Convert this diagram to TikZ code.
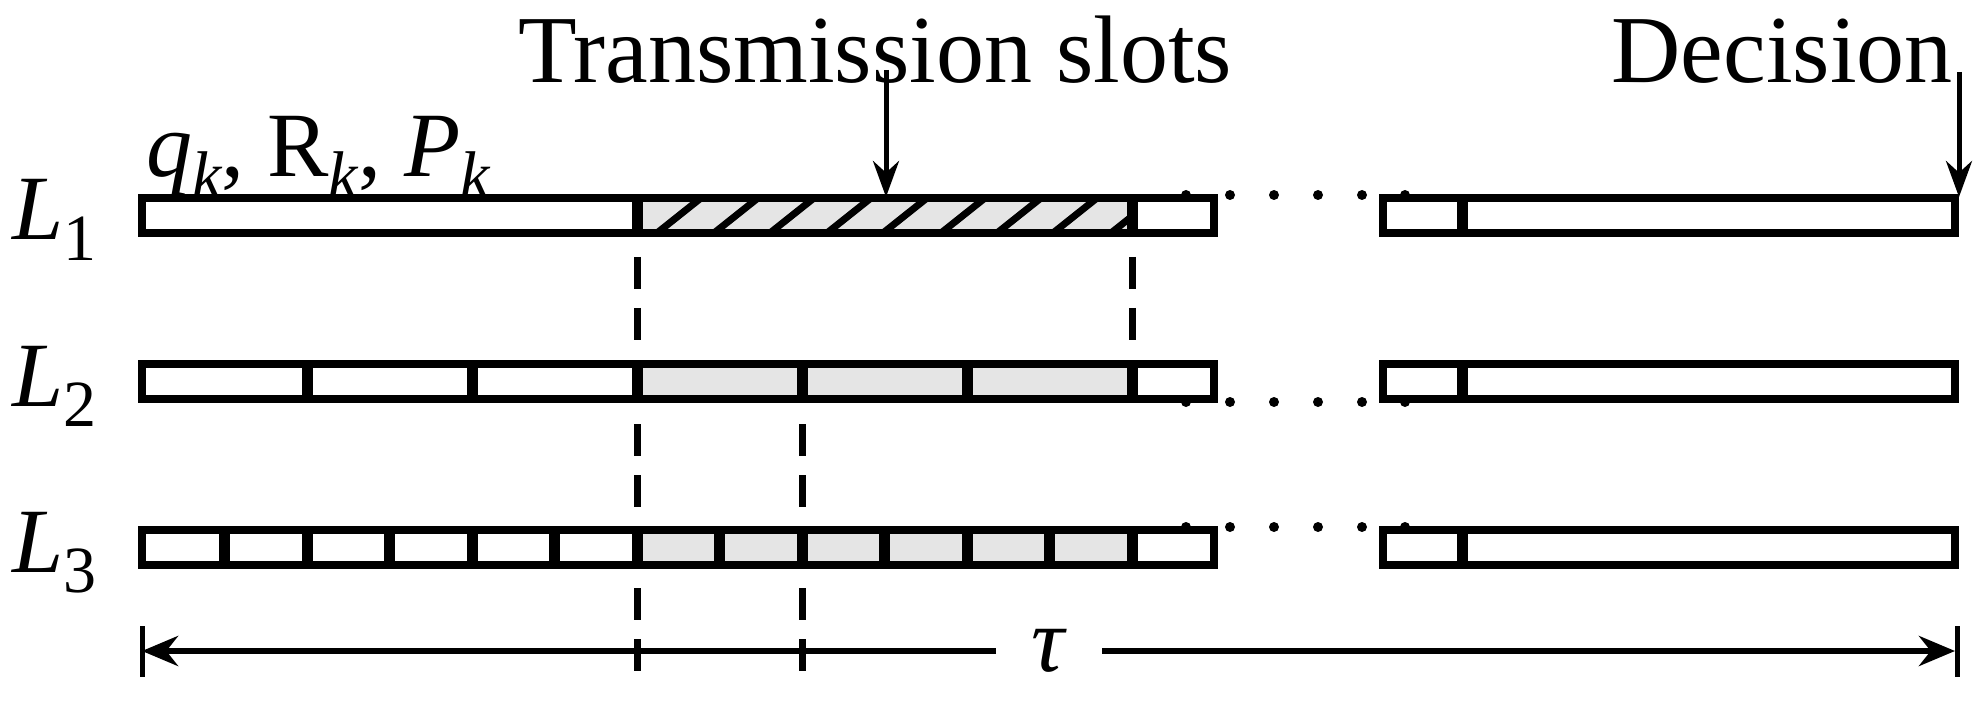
\documentclass[tikz,border=0pt]{standalone}
\usepackage{fontspec}
\setmainfont{Liberation Serif}
\usetikzlibrary{arrows.meta}
\newcommand{\subsc}[1]{\raisebox{-0.22em}{\fontsize{66}{70}\selectfont #1}}
\begin{document}
\begin{tikzpicture}[x=1pt,y=-1pt,
  bar/.style={line width=8pt},
  divider/.style={line width=11pt},
  hatchline/.style={line width=7pt},
  vdash/.style={line width=7pt,dash pattern=on 32pt off 19pt},
  txt/.style={font=\fontsize{96}{100}\selectfont,inner sep=0pt},
  mth/.style={font=\fontsize{92}{100}\selectfont\itshape,inner sep=0pt},
  arr/.style={line width=5pt,-{Stealth[length=36pt,width=26pt]}}]
\useasboundingbox (0,0) rectangle (1987,711);
\def\rows{198/233,364/399,530/565}
% gray fills
\foreach \t/\b in \rows {\fill[black!10] (637,\t) rectangle (1132,\b);}
% hatching in L1
\begin{scope}
\clip (637,202) rectangle (1132,229);
\foreach \x in {657,714,770,827,883,941,997,1053,1111}
  \draw[hatchline] (\x,233) -- ++(44,-35);
\end{scope}
% boxes
\foreach \t/\b in \rows {
  \draw[bar] (142,\t) rectangle (1214,\b);
  \draw[bar] (1383,\t) rectangle (1955,\b);
  \draw[divider] (1462,\t) -- (1462,\b);
  \draw[divider] (637,\t) -- (637,\b);
  \draw[divider] (1132,\t) -- (1132,\b);
}
\foreach \x in {307,472,802,967} \draw[divider] (\x,364) -- (\x,399);
\foreach \k in {1,...,12} \draw[divider] ({142+82.5*\k},530) -- ({142+82.5*\k},565);
% dots
\foreach \x in {1186,1230,1274,1318,1362,1405} {
  \fill (\x,195) circle (5);
  \fill (\x,402) circle (5);
  \fill (\x,527) circle (5);
}
% dashed verticals
\draw[vdash] (637,257) -- (637,342);
\draw[vdash] (1132,257) -- (1132,342);
\draw[vdash] (637,424) -- (637,507);
\draw[vdash] (802,424) -- (802,507);
\draw[vdash] (637,588) -- (637,672);
\draw[vdash] (802,588) -- (802,672);
% labels
\node[mth,anchor=base west] (l1) at (12,240) {L\subsc{\upshape 1}};
\node[mth,anchor=base west] (l2) at (12,406) {L\subsc{\upshape 2}};
\node[mth,anchor=base west] (l3) at (12,572) {L\subsc{\upshape 3}};
\node[mth,anchor=base west] (par) at (146,177) {q\subsc{k}\upshape, R\subsc{\itshape k}\upshape, \itshape P\subsc{k}};
\node[txt,anchor=base west] (ts) at (518,83) {Transmission slots};
\node[txt,anchor=base east] (dec) at (1953,83) {Decision};
\coordinate (tsend) at (886,197);
\coordinate (decend) at (1959,197);
\draw[arr] (886,70) -- (tsend);
\draw[arr] (1959,72) -- (decend);
% tau
\node[mth] (tau) at (1048,651) {τ};
\coordinate (tl) at (142,651);
\coordinate (tr) at (1955,651);
\draw[line width=6pt,-{Stealth[length=36pt,width=30pt]}] (996,651) -- (tl);
\draw[line width=6pt,-{Stealth[length=36pt,width=30pt]}] (1102,651) -- (tr);
\draw[line width=5pt] (142,626) -- (142,677);
\draw[line width=5pt] (1957,626) -- (1957,677);
\end{tikzpicture}
\end{document}
